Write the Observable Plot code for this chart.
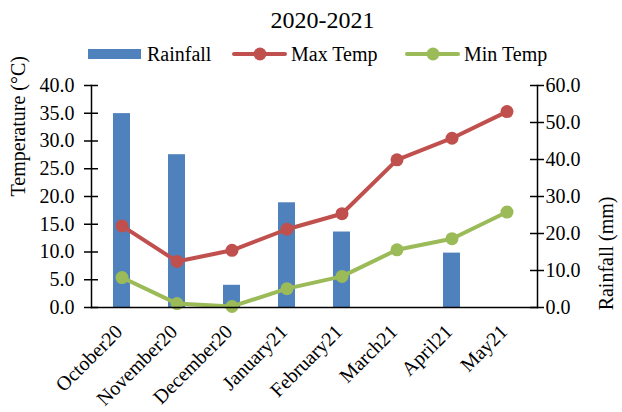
<!DOCTYPE html>
<html>
<head>
<meta charset="utf-8">
<script src="https://cdn.jsdelivr.net/npm/d3@7"></script>
<script src="https://cdn.jsdelivr.net/npm/@observablehq/plot@0.6"></script>
<style>
  html, body { margin: 0; padding: 0; background: #fff; }
  #chart { position: relative; width: 622px; height: 412px; overflow: hidden; font-family: "Liberation Serif", "Times New Roman", serif; color: #000; }
  #chart svg { position: absolute; left: 0; top: 0; }
  .legend-item { position: absolute; top: 43px; height: 22px; display: flex; align-items: center; font-size: 20px; line-height: 22px; }
  .sw-bar { width: 53px; height: 10px; margin-right: 6px; }
  .sw-line { position: relative; width: 55px; height: 4px; margin-right: 4px; border-radius: 2px; }
  .sw-line::after { content: ""; position: absolute; left: 50%; top: 50%; width: 13px; height: 13px; border-radius: 50%; background: inherit; transform: translate(-50%, -50%); }
</style>
</head>
<body>
<div id="chart"></div>
<script>
// Monthly climate record, October 2020 – May 2021
const title = "2020-2021";
const months = ["October20", "November20", "December20", "January21", "February21", "March21", "April21", "May21"];
const rainfall = [52.4, 41.3, 6.0, 28.3, 20.4, 0, 14.7, 0];      // mm
const maxTemp = [14.7, 8.3, 10.3, 14.1, 16.9, 26.6, 30.5, 35.3];  // °C
const minTemp = [5.4, 0.7, 0.2, 3.4, 5.6, 10.4, 12.4, 17.2];      // °C
const tempTicks = [0, 5, 10, 15, 20, 25, 30, 35, 40];
const rainTicks = [0, 10, 20, 30, 40, 50, 60];

const seriesNames = ["Rainfall", "Max Temp", "Min Temp"];
const colors = {"Rainfall": "#4F81BD", "Max Temp": "#C0504D", "Min Temp": "#9BBB59"};

// rainfall shares the temperature scale: 0–60 mm maps onto 0–40 °C
const tempMax = 40, rainMax = 60;
const rainToTemp = (r) => r * tempMax / rainMax;

const table = months.map((m, i) => ({month: m, rain: rainfall[i], max: maxTemp[i], min: minTemp[i]}));

const chart = Plot.plot({
  width: 622,
  height: 412,
  marginTop: 85,
  marginBottom: 105,
  marginLeft: 91,
  marginRight: 85,
  style: {fontFamily: "'Liberation Serif', 'Times New Roman', serif", fontSize: "20px", color: "#000", background: "transparent", overflow: "visible"},
  x: {domain: months, paddingInner: 0.69, paddingOuter: 0.345, label: null},
  y: {domain: [0, tempMax], label: null},
  marks: [
    Plot.barY(table, {x: "month", y: (d) => rainToTemp(d.rain), fill: colors["Rainfall"]}),
    Plot.line(table, {x: "month", y: "max", stroke: colors["Max Temp"], strokeWidth: 4, strokeLinejoin: "round", strokeLinecap: "round"}),
    Plot.dot(table, {x: "month", y: "max", r: 6.5, fill: colors["Max Temp"]}),
    Plot.line(table, {x: "month", y: "min", stroke: colors["Min Temp"], strokeWidth: 4, strokeLinejoin: "round", strokeLinecap: "round"}),
    Plot.dot(table, {x: "month", y: "min", r: 6.5, fill: colors["Min Temp"]}),
    // axis lines
    Plot.frame({anchor: "left", stroke: "#000", strokeWidth: 1.5}),
    Plot.frame({anchor: "right", stroke: "#000", strokeWidth: 1.5}),
    Plot.frame({anchor: "bottom", stroke: "#000", strokeWidth: 1.5}),
    // cross tick marks on both value axes
    Plot.ruleY(tempTicks, {y: (d) => d, insetLeft: -7, insetRight: 439, stroke: "#000", strokeWidth: 1.5}),
    Plot.ruleY(rainTicks, {y: (d) => rainToTemp(d), insetLeft: 439, insetRight: -7, stroke: "#000", strokeWidth: 1.5}),
    Plot.axisY({anchor: "left", ticks: tempTicks, tickFormat: (d) => d.toFixed(1), tickSize: 0, tickPadding: 17, label: null, fontSize: 20}),
    Plot.axisY({anchor: "right", ticks: rainTicks.map(rainToTemp), tickFormat: (d, i) => rainTicks[i].toFixed(1), tickSize: 0, tickPadding: 8, label: null, fontSize: 20}),
    Plot.axisX({tickRotate: -45, tickSize: 0, tickPadding: 21, dx: -3, label: null, fontSize: 20}),
    // axis titles
    Plot.text(["Temperature (°C)"], {frameAnchor: "left", rotate: -90, dx: -73, fontSize: 20}),
    Plot.text(["Rainfall (mm)"], {frameAnchor: "right", rotate: -90, dx: 69, fontSize: 20}),
    // chart title
    Plot.text([title], {frameAnchor: "top", lineAnchor: "middle", dx: 8, dy: -65, fontSize: 24})
  ]
});

const root = document.getElementById("chart");
root.appendChild(chart);

// legend row
const legendLeft = {"Rainfall": 88, "Max Temp": 232, "Min Temp": 405};
for (const name of seriesNames) {
  const item = document.createElement("div");
  item.className = "legend-item";
  item.style.left = legendLeft[name] + "px";
  const sw = document.createElement("div");
  sw.className = name === "Rainfall" ? "sw-bar" : "sw-line";
  sw.style.background = colors[name];
  item.appendChild(sw);
  item.appendChild(document.createTextNode(name));
  root.appendChild(item);
}
</script>
</body>
</html>
